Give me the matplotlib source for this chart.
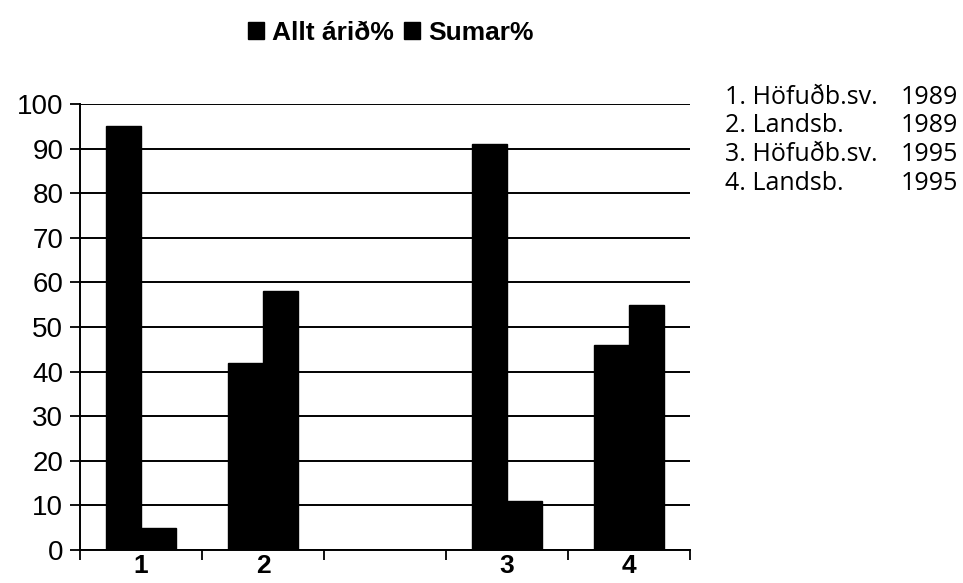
import matplotlib.pyplot as plt
import numpy as np
from matplotlib.patches import Patch

# gildi lesin af myndinni
flokkar = ['1', '2', '', '3', '4']
allt_arid = [95, 42, 0, 91, 46]
sumar = [5, 58, 0, 11, 55]
skyringar = ['1. Höfuðb.sv.', '2. Landsb.', '3. Höfuðb.sv.', '4. Landsb.']
ar = ['1989', '1989', '1995', '1995']

plt.rcParams['font.family'] = ['Liberation Sans', 'DejaVu Sans']

fig = plt.figure(figsize=(9.63, 5.83), dpi=100)
ax = fig.add_axes([80/963, 33/583, 610/963, 446/583])

x = np.arange(len(flokkar))
w = 0.29
ax.bar(x - w/2, allt_arid, w, color='black', edgecolor='black', zorder=3)
ax.bar(x + w/2, sumar, w, color='black', edgecolor='black', zorder=3)

ax.set_xlim(-0.5, len(flokkar) - 0.5)
ax.set_ylim(0, 100)
ax.set_yticks(range(0, 101, 10))
ax.yaxis.grid(True, color='black', linewidth=1.4, zorder=1)
ax.tick_params(axis='y', labelsize=20, length=7, width=1.3, pad=5)

ax.set_xticks(x)
ax.set_xticklabels(flokkar, fontsize=19, fontweight='bold')
ax.tick_params(axis='x', which='major', length=0, pad=3)
ax.set_xticks(np.arange(-0.5, len(flokkar), 1), minor=True)
ax.tick_params(axis='x', which='minor', length=7, width=1.3, direction='out')

for s in ['top', 'right']:
    ax.spines[s].set_visible(False)
for s in ['left', 'bottom']:
    ax.spines[s].set_linewidth(1.4)

handles = [Patch(color='black', label='Allt árið%'), Patch(color='black', label='Sumar%')]
fig.legend(handles=handles, loc='center', bbox_to_anchor=(391/963, 1 - 33/583), ncol=2,
           frameon=False, prop={'weight': 'bold', 'size': 19},
           handlelength=0.6, handleheight=0.6, handletextpad=0.3, columnspacing=0.4)

for i, (t, a) in enumerate(zip(skyringar, ar)):
    yy = 1 - (97 + i * 28.7) / 583
    fig.text(725/963, yy, t, fontsize=18, family='Open Sans', va='center', ha='left')
    fig.text(958/963, yy, a, fontsize=18, family='Open Sans', va='center', ha='right')

fig.savefig('out.png', dpi=100)
